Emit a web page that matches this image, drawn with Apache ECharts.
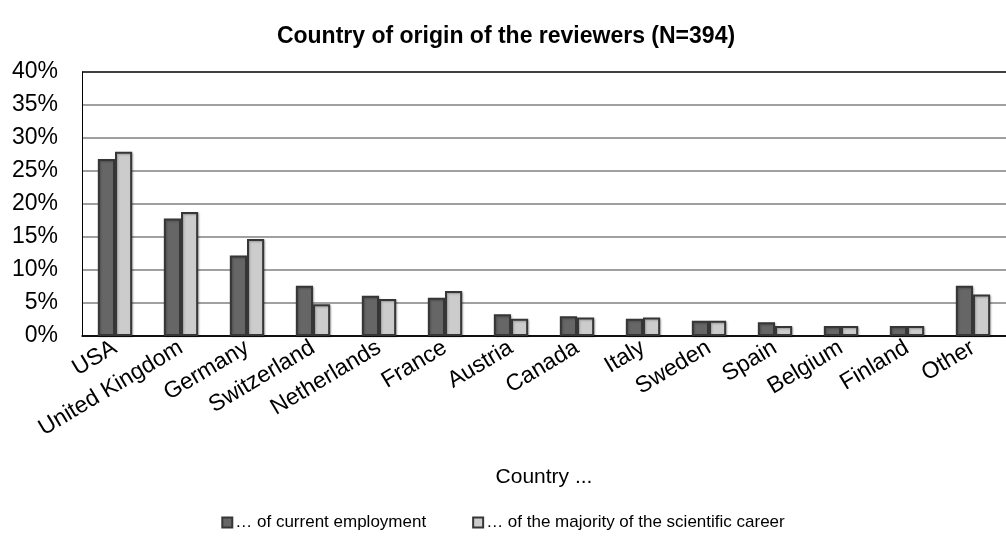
<!DOCTYPE html>
<html>
<head>
<meta charset="utf-8">
<script src="https://cdn.jsdelivr.net/npm/echarts@6/dist/echarts.min.js"></script>
<style>
  html, body { margin: 0; padding: 0; background: #fff; }
  #main { width: 1006px; height: 541px; }
</style>
</head>
<body>
<div id="main"></div>
<script>
var countries = ['USA', 'United Kingdom', 'Germany', 'Switzerland', 'Netherlands', 'France',
  'Austria', 'Canada', 'Italy', 'Sweden', 'Spain', 'Belgium', 'Finland', 'Other'];
// percentages
var currentEmployment = [26.8, 17.8, 12.2, 7.6, 6.1, 5.8, 3.3, 3.0, 2.6, 2.3, 2.1, 1.5, 1.5, 7.6];
var majorityCareer = [27.9, 18.8, 14.7, 4.8, 5.6, 6.8, 2.6, 2.8, 2.8, 2.3, 1.5, 1.5, 1.5, 6.3];
var seriesNames = ['\u2026 of current employment', '\u2026 of the majority of the scientific career'];

var font = 'Liberation Sans, Arial, sans-serif';
var myChart = echarts.init(document.getElementById('main'));

function barSeries(name, data, fill) {
  return {
    name: name,
    type: 'bar',
    data: data,
    barWidth: '26%',
    barGap: '0%',
    itemStyle: {
      color: fill,
      borderColor: '#363636',
      borderWidth: 2,
      shadowColor: 'rgba(0,0,0,0.25)',
      shadowBlur: 2,
      shadowOffsetX: 1,
      shadowOffsetY: 1
    }
  };
}

myChart.setOption({
  animation: false,
  backgroundColor: '#fff',
  title: {
    text: 'Country of origin of the reviewers (N=394)',
    left: 501,
    textAlign: 'center',
    top: 20,
    textStyle: { fontFamily: font, fontSize: 23, fontWeight: 'bold', color: '#000' }
  },
  legend: {
    bottom: 5,
    left: 'center',
    icon: 'rect',
    itemWidth: 10,
    itemHeight: 10,
    itemGap: 46,
    textStyle: { fontFamily: font, fontSize: 17, color: '#000', padding: [0, 0, 0, -2] },
    data: seriesNames
  },
  grid: { left: 82, right: 0, top: 72, bottom: 205 },
  xAxis: {
    type: 'category',
    data: countries,
    name: 'Country ...',
    nameLocation: 'middle',
    nameGap: 131,
    nameTextStyle: { fontFamily: font, fontSize: 21, color: '#000' },
    axisLine: { lineStyle: { color: '#000', width: 1.5 } },
    axisTick: { show: false },
    axisLabel: {
      interval: 0,
      rotate: 31,
      margin: 10,
      fontFamily: font,
      fontSize: 23,
      color: '#000'
    }
  },
  yAxis: {
    type: 'value',
    min: 0,
    max: 40,
    interval: 5,
    axisLine: { show: true, lineStyle: { color: '#000', width: 1 } },
    axisTick: { show: false },
    axisLabel: {
      margin: 24,
      formatter: '{value}%',
      fontFamily: font,
      fontSize: 23,
      color: '#000'
    },
    splitLine: {
      lineStyle: {
        color: ['#000', '#808080', '#808080', '#808080', '#808080', '#808080', '#808080', '#808080', '#000'],
        width: 1.5
      }
    }
  },
  series: [
    barSeries(seriesNames[0], currentEmployment, '#666666'),
    barSeries(seriesNames[1], majorityCareer, '#cccccc')
  ]
});
window.onresize = myChart.resize;
</script>
</body>
</html>
